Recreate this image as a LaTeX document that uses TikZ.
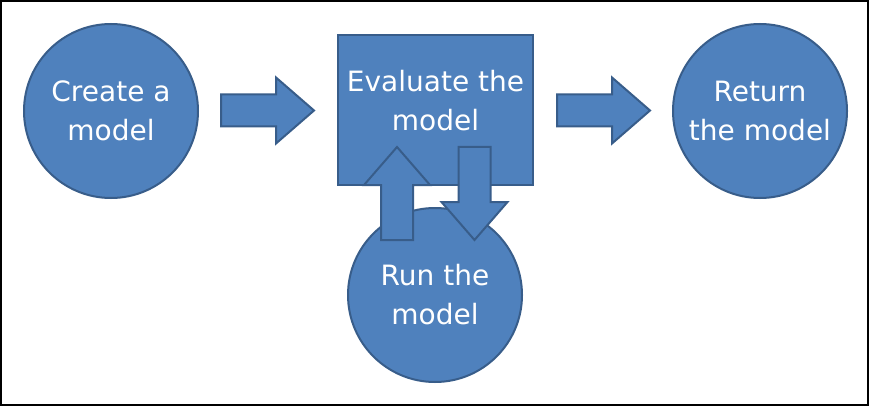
\documentclass[tikz,border=0pt]{standalone}
\usepackage{fontspec}
\setmainfont{DejaVu Sans}
\definecolor{fillblue}{RGB}{79,129,189}
\definecolor{edgeblue}{RGB}{56,93,138}
\tikzset{
  shapebase/.style={fill=fillblue, draw=edgeblue, line width=2pt},
  roundbox/.style={shapebase, circle, minimum size=174pt, inner sep=0pt},
  squarebox/.style={shapebase, rectangle, minimum width=195pt, minimum height=150pt, inner sep=0pt},
  lbl/.style={text=white, align=center, font=\fontsize{28}{39}\selectfont, inner sep=0pt},
  barrow/.pic={\path[shapebase, line join=miter]
     (0,-16) -- (55,-16) -- (55,-33) -- (93,0) -- (55,33) -- (55,16) -- (0,16) -- cycle;}
}
\begin{document}
\begin{tikzpicture}[x=1pt,y=-1pt]
\useasboundingbox (0,0) rectangle (869,406);
\fill[white] (0,0) rectangle (869,406);
\draw[line width=2pt] (1,1) rectangle (868,405);

\node[roundbox, lbl] (create) at (111,111) {Create a\\model};
\pic (arrA) at (221,110.5) {barrow};
\node[squarebox] (eval) at (435.5,110) {};
\node[lbl] (evaltxt) at (435.5,101) {Evaluate the\\model};
\node[roundbox, lbl] (run) at (435,295) {Run the\\model};
\pic[rotate=90] (arrUp) at (397,240) {barrow};
\pic[rotate=-90] (arrDown) at (474.5,147) {barrow};
\pic (arrB) at (557,110.5) {barrow};
\node[roundbox, lbl] (ret) at (760,111) {Return\\the model};
\end{tikzpicture}
\end{document}
